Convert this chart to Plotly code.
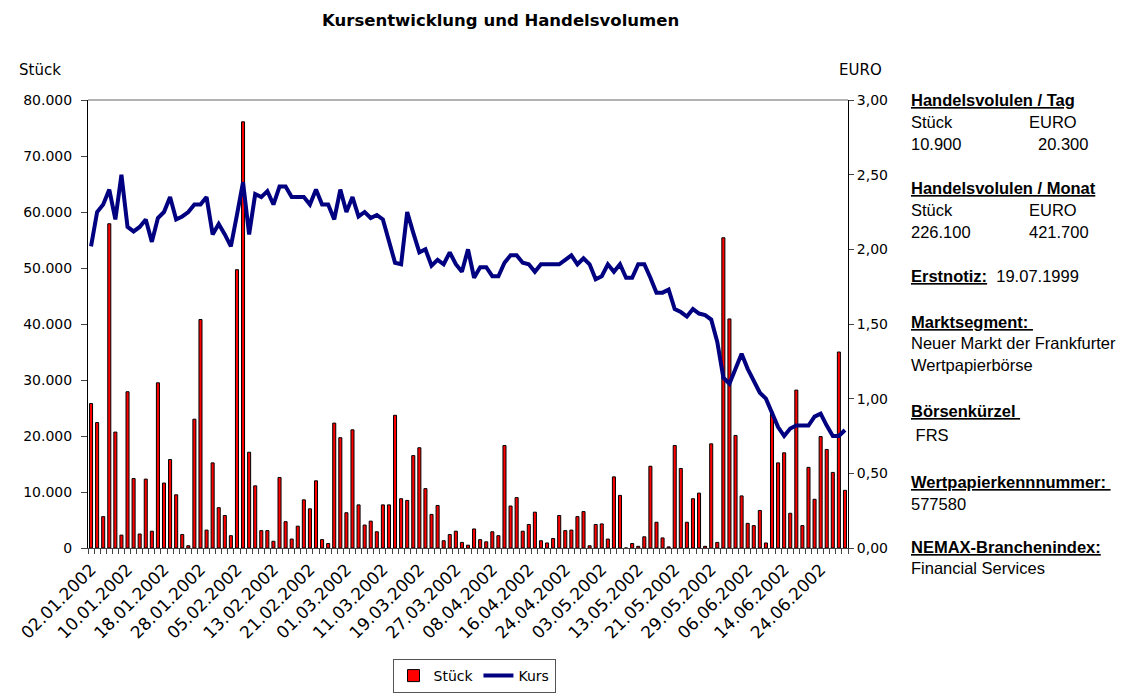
import pandas as pd
import plotly.graph_objects as go

# Handelstage 02.01.2002 - 28.06.2002 (ohne Karfreitag, Ostermontag, 1. Mai)
feiertage = ["2002-03-29", "2002-04-01", "2002-05-01"]
tage = pd.bdate_range("2002-01-02", "2002-06-28")
tage = tage[~tage.isin(pd.to_datetime(feiertage))]
datum = [d.strftime("%d.%m.%Y") for d in tage]

stueck = [25800, 22400, 5600, 57900, 20700, 2300, 27900, 12400, 2500, 12300,
          3000, 29500, 11600, 15800, 9500, 2400, 400, 23000, 40800, 3200,
          15200, 7200, 5800, 2200, 49700, 76100, 17100, 11100, 3100, 3100,
          1200, 12600, 4700, 1600, 3900, 8600, 7000, 12000, 1500, 800,
          22300, 19700, 6300, 21100, 7700, 4100, 4800, 2900, 7700, 7700,
          23700, 8800, 8500, 16500, 17900, 10600, 6000, 7600, 1300, 2400,
          3000, 1000, 500, 3400, 1500, 1100, 2900, 2200, 18300, 7500,
          9000, 3000, 4200, 6400, 1300, 900, 1700, 5800, 3100, 3200,
          5600, 6500, 400, 4200, 4300, 1600, 12700, 9400, 0, 800,
          300, 2000, 14600, 4600, 1800, 200, 18300, 14200, 4600, 8800,
          9800, 300, 18600, 1000, 55400, 40900, 20100, 9300, 4400, 4000,
          6700, 900, 24300, 15200, 17000, 6200, 28200, 4000, 14400, 8700,
          19900, 17600, 13500, 35000, 10300]

kurs = [2.02, 2.25, 2.30, 2.40, 2.20, 2.50, 2.15, 2.12, 2.15, 2.20,
        2.05, 2.21, 2.25, 2.35, 2.20, 2.22, 2.25, 2.30, 2.30, 2.35,
        2.10, 2.17, 2.10, 2.02, 2.23, 2.45, 2.10, 2.37, 2.35, 2.39,
        2.30, 2.42, 2.42, 2.35, 2.35, 2.35, 2.30, 2.40, 2.30, 2.30,
        2.20, 2.40, 2.25, 2.35, 2.22, 2.25, 2.21, 2.23, 2.20, 2.06,
        1.91, 1.90, 2.25, 2.11, 1.98, 2.00, 1.89, 1.93, 1.90, 1.98,
        1.90, 1.85, 2.00, 1.81, 1.88, 1.88, 1.82, 1.82, 1.91, 1.96,
        1.96, 1.91, 1.90, 1.85, 1.90, 1.90, 1.90, 1.90, 1.93, 1.96,
        1.90, 1.94, 1.90, 1.80, 1.82, 1.90, 1.85, 1.90, 1.81, 1.81,
        1.90, 1.90, 1.81, 1.71, 1.71, 1.73, 1.60, 1.58, 1.55, 1.60,
        1.57, 1.56, 1.53, 1.38, 1.14, 1.10, 1.20, 1.30, 1.20, 1.12,
        1.04, 1.00, 0.91, 0.81, 0.75, 0.80, 0.82, 0.82, 0.82, 0.88,
        0.90, 0.82, 0.75, 0.75, 0.79]

tick_text = [d if i % 6 == 0 else "" for i, d in enumerate(datum)]

# Infoblock rechts: (text, x px, y px)
info = [
    ("<b><u>Handelsvolulen / Tag</u></b>", 909, 100),
    ("Stück", 909, 122), ("EURO", 1027, 122),
    ("10.900", 909, 144), ("20.300", 1036, 144),
    ("<b><u>Handelsvolulen / Monat</u></b>", 909, 188),
    ("Stück", 909, 210), ("EURO", 1027, 210),
    ("226.100", 909, 232), ("421.700", 1027, 232),
    ("<b><u>Erstnotiz:</u></b>  19.07.1999", 909, 276),
    ("<b><u>Marktsegment: </u></b>", 909, 322),
    ("Neuer Markt der Frankfurter", 909, 343),
    ("Wertpapierbörse", 909, 365),
    ("<b><u>Börsenkürzel </u></b>", 909, 411),
    (" FRS", 909, 435),
    ("<b><u>Wertpapierkennnummer: </u></b>", 909, 482),
    ("577580", 909, 504),
    ("<b><u>NEMAX-Branchenindex:</u></b>", 909, 547),
    ("Financial Services", 909, 568),
]

L, R, T, B = 88, 848, 100, 548
W, H = 1125, 695


def px(x, y):
    return (x - L) / (R - L), (B - y) / (B - T)


fig = go.Figure()
fig.add_trace(go.Bar(x=datum, y=stueck, name="Stück", width=0.5,
                     marker=dict(color="#ff0000", line=dict(color="black", width=1))))
fig.add_trace(go.Scatter(x=datum, y=kurs, name="Kurs", yaxis="y2", mode="lines",
                         line=dict(color="#000080", width=4)))

fig.update_layout(
    width=W, height=H,
    margin=dict(l=L, r=W - R, t=T, b=H - B),
    paper_bgcolor="white", plot_bgcolor="white",
    separators=",.",
    font=dict(family="DejaVu Sans", size=13, color="black"),
    showlegend=True,
    legend=dict(orientation="h", xref="container", yref="container",
                x=474 / W, xanchor="center", y=(H - 659) / H, yanchor="top",
                bordercolor="#555555", borderwidth=1, font=dict(size=14),
                tracegroupgap=0),
    bargap=0.5,
    xaxis=dict(type="category", tickmode="array", tickvals=datum, ticktext=tick_text,
               tickangle=-45, ticks="outside", ticklen=5, tickson="boundaries",
               tickcolor="#444444", showline=True, linecolor="#444444",
               tickfont=dict(size=17), automargin=False, ticklabelstandoff=4,
               showgrid=False, range=[-0.5, len(datum) - 0.5]),
    yaxis=dict(range=[0, 80000], dtick=10000, tickformat=",.0f", showgrid=False,
               showline=True, linecolor="black", ticks="outside", ticklen=6,
               ticklabelstandoff=6, zeroline=False, automargin=False,
               tickfont=dict(size=14)),
    yaxis2=dict(range=[0, 3], dtick=0.5, tickformat=".2f", overlaying="y", side="right",
                showgrid=False, showline=True, linecolor="black", ticks="outside",
                ticklen=5, zeroline=False, automargin=False, tickfont=dict(size=14)),
)

fig.add_shape(type="line", xref="paper", yref="paper", x0=0, x1=1, y0=1, y1=1,
              line=dict(color="#999999", width=1.5))

fig.add_annotation(text="<b>Kursentwicklung und Handelsvolumen</b>", xref="paper", yref="paper",
                   x=px(500, 21)[0], y=px(500, 21)[1], showarrow=False,
                   font=dict(size=16.5, family="DejaVu Sans"), xanchor="center", yanchor="middle")
for t, x, y in [("Stück", 40, 70), ("EURO", 860, 70)]:
    xx, yy = px(x, y)
    fig.add_annotation(text=t, xref="paper", yref="paper", x=xx, y=yy, showarrow=False,
                       xanchor="center", yanchor="middle", font=dict(size=15))

for t, x, y in info:
    xx, yy = px(x, y)
    fig.add_annotation(text=t, xref="paper", yref="paper", x=xx, y=yy, showarrow=False,
                       xanchor="left", yanchor="middle",
                       font=dict(family="Liberation Sans", size=16.5, color="black"))

fig.write_html("out.html", config={"displayModeBar": False},
               post_script="document.body.style.margin='0';")
